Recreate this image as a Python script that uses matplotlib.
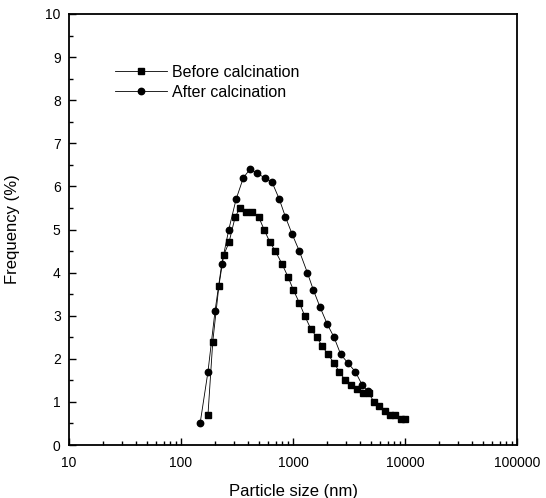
import matplotlib

matplotlib.use("Agg")
import matplotlib.pyplot as plt
from matplotlib.ticker import FixedLocator, LogLocator, NullFormatter

plt.rcParams["font.family"] = ["Liberation Sans", "DejaVu Sans"]

# particle size (nm) and frequency (%)
before_size = [174, 192, 218, 240, 268, 305, 337, 380, 434, 492, 551, 623, 695,
               798, 902, 1006, 1138, 1270, 1438, 1629, 1816, 2053, 2323, 2590,
               2931, 3315, 3750, 4244, 4742, 5285, 5895, 6590, 7346, 8189, 9269, 9900]
before_freq = [0.7, 2.4, 3.7, 4.4, 4.7, 5.3, 5.5, 5.4, 5.4, 5.3, 5.0, 4.7, 4.5,
               4.2, 3.9, 3.6, 3.3, 3.0, 2.7, 2.5, 2.3, 2.1, 1.9, 1.7,
               1.5, 1.4, 1.3, 1.2, 1.2, 1.0, 0.9, 0.8, 0.7, 0.7, 0.6, 0.6]

after_size = [148, 174, 201, 231, 267, 310, 360, 413, 480, 558, 649, 755, 853,
              979, 1138, 1342, 1517, 1741, 2024, 2323, 2667, 3098, 3600, 4130, 4677]
after_freq = [0.5, 1.7, 3.1, 4.2, 5.0, 5.7, 6.2, 6.4, 6.3, 6.2, 6.1, 5.7, 5.3,
              4.9, 4.5, 4.0, 3.6, 3.2, 2.8, 2.5, 2.1, 1.9, 1.7, 1.4, 1.25]

x_ticks = [10, 100, 1000, 10000, 100000]
x_labels = ["10", "100", "1000", "10000", "100000"]

fig = plt.figure(figsize=(5.46, 4.98), dpi=100)
ax = fig.add_axes([0.1264, 0.1064, 0.8206, 0.8655])

ax.plot(before_size, before_freq, color="black", lw=0.6, marker="s",
        markersize=4.2, label="Before calcination")
ax.plot(after_size, after_freq, color="black", lw=0.6, marker="o",
        markersize=4.6, label="After calcination")

ax.set_xscale("log")
ax.set_xlim(10, 100000)
ax.set_ylim(0, 10)
ax.set_xticks(x_ticks)
ax.set_xticklabels(x_labels)
ax.xaxis.set_minor_locator(LogLocator(base=10, subs=range(2, 10)))
ax.xaxis.set_minor_formatter(NullFormatter())
ax.set_yticks(range(0, 11))
ax.yaxis.set_minor_locator(FixedLocator([i + 0.5 for i in range(10)]))

ax.tick_params(which="both", direction="in", top=False, right=False,
               labelsize=10, width=1.0)
ax.tick_params(which="major", length=5)
ax.tick_params(axis="x", which="major", pad=8)
ax.tick_params(axis="y", which="major", pad=6)
ax.tick_params(which="minor", length=3)
for s in ax.spines.values():
    s.set_linewidth(1.3)

ax.set_xlabel("Particle size (nm)", fontsize=12, labelpad=10)
ax.set_ylabel("Frequency (%)", fontsize=12, labelpad=18)

ax.legend(loc="upper left", bbox_to_anchor=(0.07, 0.915), frameon=False,
          fontsize=11.5, handlelength=3.3, handletextpad=0.3, labelspacing=0.3,
          markerscale=1.0)

fig.savefig("out.png", dpi=100)
